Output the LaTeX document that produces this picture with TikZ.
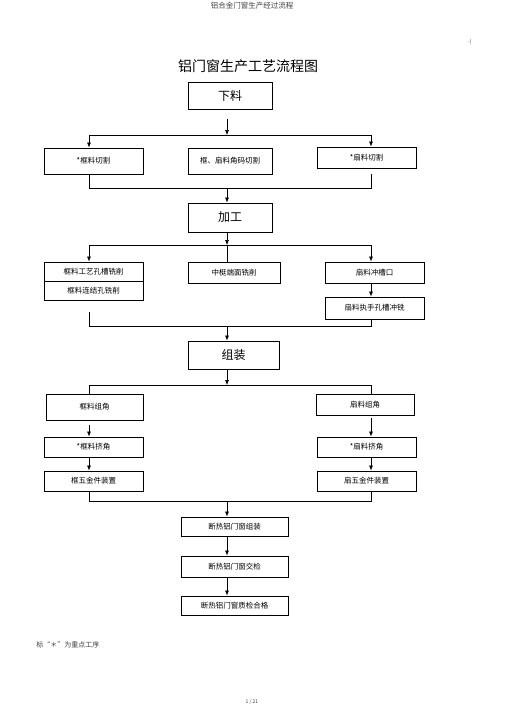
\documentclass[tikz,border=0pt]{standalone}
\usepackage{fontspec}
\setmainfont{Noto Sans CJK SC}
\usetikzlibrary{arrows.meta}

\begin{document}
\begin{tikzpicture}[x=1pt, y=-1pt, semithick, >={Latex[length=5pt,width=4pt]},
    box/.style = {draw, line width=0.9pt, minimum width=99pt, minimum height=20pt, inner sep=0pt, font=\fontsize{7.5}{9}\selectfont},
    big/.style = {box, minimum width=84pt, minimum height=27pt, font=\fontsize{12}{14}\selectfont},
    note/.style = {inner sep=0pt, text=black!75}]
    \useasboundingbox (0,0) rectangle (505,715);

    \node[note, font=\fontsize{7.5}{9}\selectfont] (head) at (252,6) {铝合金门窗生产经过流程};
    \node[note, font=\fontsize{5}{6}\selectfont] (mark) at (470,42) {-|};
    \node[note, text=black, font=\fontsize{14}{16}\selectfont] (title) at (248,66) {铝门窗生产工艺流程图};

    % 下料
    \node[big] (xl) at (230,96) {下料};
    \node[box, minimum height=26pt] (qk1) at (93.5,161) {*框料切割};
    \node[box, minimum width=84pt, minimum height=26pt] (qk2) at (230,161) {框、扇料角码切割};
    \node[box, minimum height=21pt] (qk3) at (366.5,157.5) {*扇料切割};

    % 加工
    \node[big, minimum height=29pt] (jg) at (230,217.5) {加工};
    \node[box, minimum height=19pt] (jg1) at (93.5,271.5) {框料工艺孔槽铣削};
    \node[box, minimum height=19pt] (jg2) at (93.5,290.5) {框料连结孔铣削};
    \node[box, minimum width=92pt, minimum height=21pt] (jg3) at (234,272.5) {中梃端面铣削};
    \node[box, minimum height=21pt] (jg4) at (374.5,272.5) {扇料冲槽口};
    \node[box, minimum height=22pt] (jg5) at (374.5,308) {扇料执手孔槽冲铣};

    % 组装
    \node[big, minimum width=91pt, minimum height=28pt] (zz) at (233.5,355) {组装};
    \node[box, minimum width=97pt, minimum height=26pt] (zz1) at (94.5,407) {框料组角};
    \node[box, minimum width=98pt, minimum height=21pt] (zz2) at (365,404.5) {扇料组角};
    \node[box] (zz3) at (93.5,447) {*框料挤角};
    \node[box] (zz4) at (366.5,447) {*扇料挤角};
    \node[box] (zz5) at (93.5,481) {框五金件装置};
    \node[box] (zz6) at (366.5,481) {扇五金件装置};

    \node[box, minimum width=107pt, minimum height=19pt] (dr1) at (234.5,526.5) {断热铝门窗组装};
    \node[box, minimum width=107pt, minimum height=21pt] (dr2) at (234.5,566.5) {断热铝门窗交检};
    \node[box, minimum width=107pt, minimum height=19pt] (dr3) at (234.5,605.5) {断热铝门窗质检合格};

    \node[note, anchor=west, font=\fontsize{7}{8}\selectfont] (foot) at (36,645) {标“＊”为重点工序};
    \node[note, font=\fontsize{5}{6}\selectfont] (page) at (252,702) {1 / 21};

    % branch and merge points
    \coordinate (a1) at (227,135);
    \coordinate (a1l) at (89,135);
    \coordinate (a1r) at (371,135);
    \coordinate (b1) at (227,188);
    \coordinate (b1l) at (89,188);
    \coordinate (b1r) at (371,188);
    \coordinate (a2) at (227,245);
    \coordinate (a2l) at (89,245);
    \coordinate (a2r) at (371,245);
    \coordinate (b2) at (227,326);
    \coordinate (b2l) at (89,326);
    \coordinate (b2r) at (371,326);
    \coordinate (a3) at (227,385);
    \coordinate (a3l) at (89,385);
    \coordinate (a3r) at (371,385);
    \coordinate (b3) at (227,501);
    \coordinate (b3l) at (89,501);
    \coordinate (b3r) at (371,501);

    \draw[->, shorten <=9pt] (xl.south -| a1) -- (a1);
    \draw (a1l) -- (a1r);
    \draw[->] (a1l) -- (qk1.north -| a1l);
    \draw[->] (a1r) -- (qk3.north -| a1r);
    \draw (qk1.south -| b1l) -- (b1l) -- (b1r) -- ([yshift=-6pt]qk3.south -| b1r);
    \draw[->] (b1) -- (jg.north -| b1);

    \draw[->] (jg.south -| a2) -- (a2);
    \draw (a2l) -- (a2r);
    \draw[->] (a2l) -- (jg1.north -| a2l);
    \draw (a2) -- (jg3.north -| a2);
    \draw[->] (a2r) -- (jg4.north -| a2r);
    \draw[->] (jg4.south -| a2r) -- (jg5.north -| a2r);
    \draw ([yshift=-12pt]jg2.south -| b2l) -- (b2l) -- (b2r) -- (jg5.south -| b2r);
    \draw[->] (b2) -- (zz.north -| b2);

    \draw[->] (zz.south -| a3) -- (a3);
    \draw (a3l) -- (a3r);
    \draw (a3l) -- (zz1.north -| a3l);
    \draw (a3r) -- (zz2.north -| a3r);
    \draw[->, shorten <=5pt] (zz1.south -| a3l) -- (zz3.north -| a3l);
    \draw[->, shorten <=3pt] (zz2.south -| a3r) -- (zz4.north -| a3r);
    \draw[->] (zz3.south -| a3l) -- (zz5.north -| a3l);
    \draw[->] (zz4.south -| a3r) -- (zz6.north -| a3r);
    \draw (zz5.south -| b3l) -- (b3l) -- (b3r) -- (zz6.south -| b3r);
    \draw[->] (b3) -- (dr1.north -| b3);
    \draw[->] (dr1.south -| b3) -- (dr2.north -| b3);
    \draw[->] (dr2.south -| b3) -- (dr3.north -| b3);

    \end{tikzpicture}
\end{document}
